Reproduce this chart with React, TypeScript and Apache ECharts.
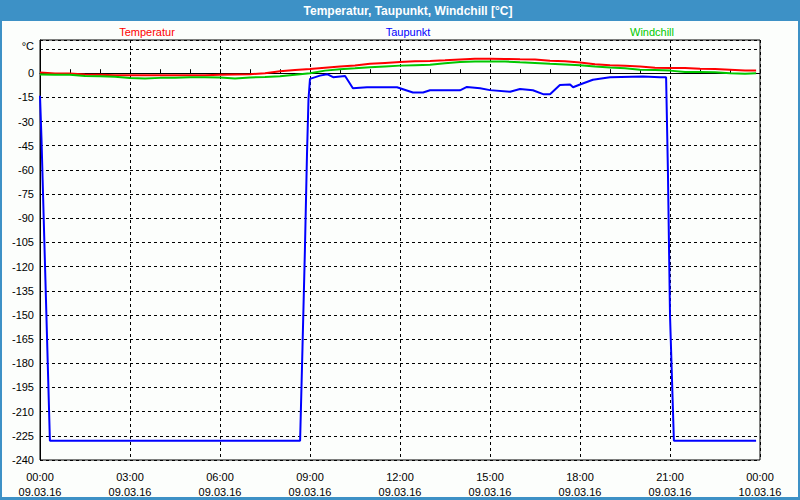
import React, { useEffect, useRef } from 'react';
import * as echarts from 'echarts';

const chartTitle = 'Temperatur, Taupunkt, Windchill [°C]';
const seriesNames = ['Temperatur', 'Taupunkt', 'Windchill'];
const seriesColors = ['#ff0000', '#0000ff', '#00c800'];

const timeLabels = ['00:00', '03:00', '06:00', '09:00', '12:00', '15:00', '18:00', '21:00', '00:00'];
const dateLabels = ['09.03.16', '09.03.16', '09.03.16', '09.03.16', '09.03.16', '09.03.16', '09.03.16', '09.03.16', '10.03.16'];

// hours since 09.03.16 00:00
const hoursTW = [
  0, 0.5, 1, 1.5, 2, 2.5, 3, 3.5, 4, 4.5, 5, 5.5, 6, 6.5, 7, 7.5, 8, 8.5, 9, 9.5,
  10, 10.5, 11, 11.5, 12, 12.5, 13, 13.5, 14, 14.5, 15, 15.5, 16, 16.5, 17, 17.5,
  18, 18.5, 19, 19.5, 20, 20.5, 21, 21.5, 22, 22.5, 23, 23.5, 23.87,
];
const temperatur = [
  0.4, -0.2, -0.2, -0.8, -1.0, -1.2, -1.2, -1.2, -1.2, -1.2, -1.2, -1.2, -1.0, -0.8, -0.6, 0.0, 1.2, 2.0, 2.6, 3.4,
  4.2, 4.8, 5.8, 6.4, 7.0, 7.4, 7.6, 8.0, 8.5, 8.9, 9.0, 8.8, 8.6, 8.5, 7.8, 7.4,
  6.6, 5.6, 5.0, 4.6, 4.2, 3.4, 3.3, 3.3, 2.8, 2.6, 2.2, 1.6, 1.6,
];
const windchill = [
  -0.8, -0.9, -0.9, -1.8, -1.9, -2.2, -3.0, -3.3, -2.9, -2.8, -2.5, -2.5, -2.6, -3.3, -2.6, -2.4, -1.9, -1.0, 0.0, 1.6,
  2.5, 3.0, 3.7, 4.2, 4.7, 5.0, 5.3, 6.2, 7.0, 7.2, 7.2, 7.2, 6.8, 6.4, 5.8, 5.4,
  5.0, 4.2, 3.5, 3.0, 2.2, 2.0, 1.6, 0.8, 0.8, 0.6, 0.0, -0.4, 0.0,
];

const hoursTP = [
  0, 0.05, 0.33, 8.67, 8.75, 8.83, 8.9, 8.95, 9.0, 9.33, 9.57, 9.77, 10.17, 10.43, 10.9, 11.9,
  12.0, 12.43, 12.77, 13.0, 14.0, 14.23, 14.67, 15.0, 15.67, 16.0, 16.43, 16.77, 17.0, 17.33,
  17.67, 17.77, 18.0, 18.43, 19.0, 20.1, 20.67, 20.87, 20.93, 21.0, 21.13, 23.87,
];
const taupunkt = [
  -14, -41, -228, -228, -170, -110, -50, -16, -3.5, -1.5, -0.6, -2.5, -1.7, -9.3, -8.7, -8.7,
  -9.3, -12, -12, -10.6, -10.6, -8.5, -9.3, -10.5, -11.5, -9.8, -10.6, -13, -13, -7.3,
  -7, -8.7, -7, -4.1, -2.5, -2.1, -2.5, -2.5, -60, -150, -228, -228,
];

const font = 'Liberation Sans';

export default function App() {
  const ref = useRef<HTMLDivElement>(null);
  useEffect(() => {
    if (!ref.current) return;
    const chart = echarts.init(ref.current, null, { renderer: 'svg' });
    const pair = (xs: number[], ys: number[]) => xs.map((x, i) => [x, ys[i]]);
    const legendX = [147, 408, 652];
    chart.setOption({
      animation: false,
      backgroundColor: '#fcfefc',
      grid: {
        left: 40, right: 40, top: 40, bottom: 40,
        show: true, borderColor: '#000', borderWidth: 1, backgroundColor: 'transparent',
      },
      xAxis: {
        type: 'value', min: 0, max: 24, interval: 3,
        axisLine: { show: true, lineStyle: { color: '#000', width: 1 } },
        axisTick: { show: true, inside: true, length: 4, lineStyle: { color: '#000' } },
        minorTick: { show: true, splitNumber: 3, length: 4, lineStyle: { color: '#000' } },
        splitLine: { show: true, lineStyle: { color: '#000', type: [3, 3], width: 1 } },
        axisLabel: {
          margin: 9, color: '#000', fontFamily: font, fontSize: 11, lineHeight: 15,
          formatter: (v: number) => {
            const i = Math.round(v / 3);
            return timeLabels[i] + '\n' + dateLabels[i];
          },
        },
      },
      yAxis: {
        type: 'value', min: -240, max: 20.6, interval: 15,
        axisLine: { show: true, lineStyle: { color: '#000', width: 1 } },
        axisTick: { show: false },
        splitLine: { show: true, lineStyle: { color: '#000', type: [3, 3], width: 1 } },
        axisLabel: {
          margin: 6, color: '#000', fontFamily: font, fontSize: 11, showMaxLabel: false,
          formatter: (v: number) => (v === 15 ? '{u|°C}' : v > 15 ? '' : String(v)),
          rich: { u: { fontFamily: font, fontSize: 11, color: '#000', padding: [0, 0, 7, 0] } },
        },
      },
      graphic: [
        { type: 'rect', shape: { x: 0, y: 0, width: 800, height: 21 }, style: { fill: '#3d91c6' } },
        { type: 'rect', shape: { x: 0, y: 0, width: 2, height: 500 }, style: { fill: '#3d91c6' } },
        { type: 'rect', shape: { x: 798, y: 0, width: 2, height: 500 }, style: { fill: '#3d91c6' } },
        { type: 'rect', shape: { x: 0, y: 497, width: 800, height: 3 }, style: { fill: '#3d91c6' } },
        {
          type: 'text', x: 408, y: 11,
          style: { text: chartTitle, fill: '#fff', font: `bold 12px "${font}"`, align: 'center', verticalAlign: 'middle' },
        },
        ...seriesNames.map((n, i) => ({
          type: 'text', x: legendX[i], y: 32,
          style: { text: n, fill: seriesColors[i], font: `11px "${font}"`, align: 'center', verticalAlign: 'middle' },
        })),
      ],
      series: [
        {
          name: seriesNames[0], type: 'line', data: pair(hoursTW, temperatur), showSymbol: false,
          lineStyle: { color: seriesColors[0], width: 2 }, itemStyle: { color: seriesColors[0] }, z: 3,
        },
        {
          name: seriesNames[2], type: 'line', data: pair(hoursTW, windchill), showSymbol: false,
          lineStyle: { color: seriesColors[2], width: 2 }, itemStyle: { color: seriesColors[2] }, z: 4,
        },
        {
          name: seriesNames[1], type: 'line', data: pair(hoursTP, taupunkt), showSymbol: false,
          lineStyle: { color: seriesColors[1], width: 2 }, itemStyle: { color: seriesColors[1] }, z: 5,
        },
      ],
    });
    return () => chart.dispose();
  }, []);
  return <div ref={ref} style={{ position: 'fixed', left: 0, top: 0, width: 800, height: 500 }} />;
}
